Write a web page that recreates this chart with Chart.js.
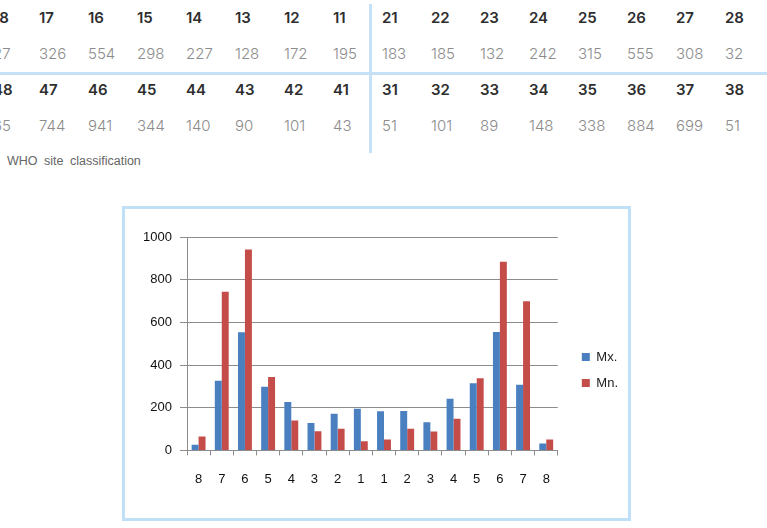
<!DOCTYPE html>
<html>
<head>
<meta charset="utf-8">
<script src="https://cdn.jsdelivr.net/npm/chart.js"></script>
<style>
  html, body { margin: 0; padding: 0; background: #fff; }
  body { width: 767px; height: 528px; position: relative; overflow: hidden; font-family: Inter, "Liberation Sans", sans-serif; }
  .cell { position: absolute; font-size: 15px; line-height: 20px; white-space: nowrap; }
  .site { color: #2e2e2e; font-weight: 600; }
  .val { color: #8c8c8c; font-weight: 300; }
  #hline { position: absolute; left: 0; top: 72px; width: 767px; height: 3px; background: #c6e1f5; }
  #vline { position: absolute; left: 369px; top: 4px; width: 3px; height: 149px; background: #c6e1f5; }
  #caption { position: absolute; left: 7px; top: 154px; font-size: 12.5px; color: #666; word-spacing: 3px; font-family: "Liberation Sans", sans-serif; }
  #box { position: absolute; left: 122px; top: 206px; width: 509px; height: 315px; border: 3px solid #bfe0f6; box-sizing: border-box; }
  #box canvas { display: block; }
</style>
</head>
<body>
<div id="hline"></div>
<div id="vline"></div>
<div id="caption">WHO site classification</div>
<div id="box"><canvas id="myChart" width="503" height="309"></canvas></div>

<script>
// site numbers of the table (upper and lower jaw)
const upperSites = [18, 17, 16, 15, 14, 13, 12, 11, 21, 22, 23, 24, 25, 26, 27, 28];
const lowerSites = [48, 47, 46, 45, 44, 43, 42, 41, 31, 32, 33, 34, 35, 36, 37, 38];
// values per site
const mx = [27, 326, 554, 298, 227, 128, 172, 195, 183, 185, 132, 242, 315, 555, 308, 32];
const mn = [65, 744, 941, 344, 140, 90, 101, 43, 51, 101, 89, 148, 338, 884, 699, 51];
// x-axis labels
const toothLabels = ['8', '7', '6', '5', '4', '3', '2', '1', '1', '2', '3', '4', '5', '6', '7', '8'];

// build the table rows as text
function addRow(items, cls, top) {
    items.forEach((txt, i) => {
        const d = document.createElement('div');
        d.className = 'cell ' + cls;
        let left = i < 8 ? 333 - 49 * (7 - i) : 382 + 49 * (i - 8);
        if (i === 0) left = -7;   // first column is cut by the page edge
        d.style.left = left + 'px';
        d.style.top = top + 'px';
        d.textContent = txt;
        document.body.appendChild(d);
    });
}
addRow(upperSites, 'site', 8);
addRow(mx, 'val', 44);
addRow(lowerSites, 'site', 80);
addRow(mn, 'val', 116);

Chart.defaults.font.family = '"Liberation Sans", Arial, sans-serif';

const ctx = document.getElementById('myChart');
const myChart = new Chart(ctx, {
    type: 'bar',
    data: {
        labels: toothLabels,
        datasets: [{
            label: 'Mx.',
            data: mx,
            backgroundColor: '#4a7fc0'
        },
        {
            label: 'Mn.',
            data: mn,
            backgroundColor: '#c44d4a'
        }]
    },
    options: {
        responsive: false,
        animation: false,
        layout: { padding: { top: 28, left: 0, right: 0, bottom: 15 } },
        datasets: { bar: { categoryPercentage: 0.6, barPercentage: 1 } },
        plugins: {
            legend: {
                position: 'right',
                labels: { boxWidth: 8, boxHeight: 8, padding: 13, color: '#222', font: { size: 13 } }
            },
            tooltip: { enabled: false }
        },
        scales: {
            x: {
                grid: { drawOnChartArea: false, offset: true, tickLength: 5, color: '#8c8c8c' },
                border: { color: '#8c8c8c' },
                ticks: { padding: 16, color: '#111', font: { size: 13 } }
            },
            y: {
                min: 0,
                max: 1000,
                ticks: {
                    stepSize: 200, padding: 8, color: '#111', font: { size: 13 },
                    callback: function(v) { return String(v); }
                },
                grid: { color: '#8c8c8c', tickLength: 7 },
                border: { color: '#8c8c8c' },
                afterFit: function(s) { s.width = 62; }
            },
            // empty axis, only keeps a gap between plot and legend
            y2: {
                position: 'right',
                grid: { display: false },
                ticks: { display: false },
                border: { display: false },
                afterFit: function(s) { s.width = 11; }
            }
        }
    }
});
</script>
</body>
</html>
